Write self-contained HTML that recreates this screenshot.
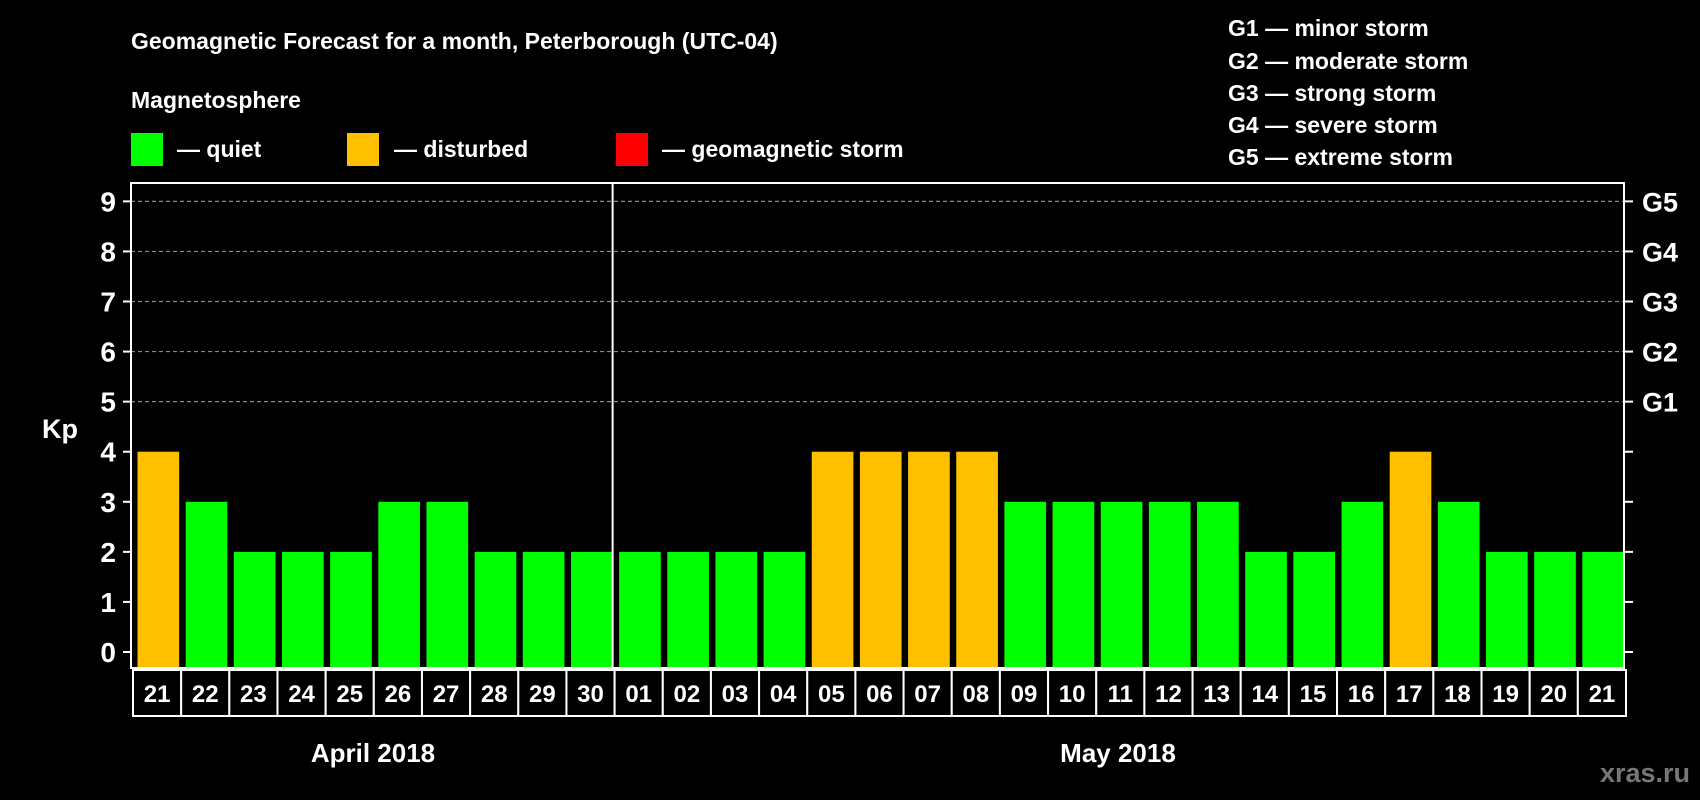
<!DOCTYPE html>
<html><head><meta charset="utf-8">
<style>
html,body{margin:0;padding:0;background:#000;}
svg{display:block;font-family:"Liberation Sans",Arial,sans-serif;font-weight:bold;}
</style></head>
<body>
<svg id="chart" width="1700" height="800" viewBox="0 0 1700 800" xmlns="http://www.w3.org/2000/svg">
<rect width="1700" height="800" fill="#000"/>
<text x="131" y="49" fill="#fff" font-size="23">Geomagnetic Forecast for a month, Peterborough (UTC-04)</text>
<text x="131" y="108" fill="#fff" font-size="23">Magnetosphere</text>
<g>
<rect x="131" y="133" width="32" height="33" fill="#00ff00"/>
<text x="177" y="157" fill="#fff" font-size="23">— quiet</text></g>
<g>
<rect x="347" y="133" width="32" height="33" fill="#ffc000"/>
<text x="394" y="157" fill="#fff" font-size="23">— disturbed</text></g>
<g>
<rect x="616" y="133" width="32" height="33" fill="#ff0000"/>
<text x="662" y="157" fill="#fff" font-size="23">— geomagnetic storm</text></g>
<g fill="#fff" font-size="23">
<text x="1228" y="36">G1 — minor storm</text>
<text x="1228" y="69">G2 — moderate storm</text>
<text x="1228" y="101">G3 — strong storm</text>
<text x="1228" y="133">G4 — severe storm</text>
<text x="1228" y="165">G5 — extreme storm</text>
</g>
<text x="42" y="438" fill="#fff" font-size="27">Kp</text>
<text x="373" y="762" fill="#fff" font-size="26" text-anchor="middle">April 2018</text>
<text x="1118" y="762" fill="#fff" font-size="26" text-anchor="middle">May 2018</text>
<text x="1690" y="782" fill="#777" font-size="27" text-anchor="end">xras.ru</text>
<g id="plot"></g>
</svg>
<script>
const days = ["21","22","23","24","25","26","27","28","29","30","01","02","03","04","05","06","07","08","09","10","11","12","13","14","15","16","17","18","19","20","21"];
const kpValues = [4,3,2,2,2,3,3,2,2,2,2,2,2,2,4,4,4,4,3,3,3,3,3,2,2,3,4,3,2,2,2];
const yTicks = [0,1,2,3,4,5,6,7,8,9];
const gLabels = ["G1","G2","G3","G4","G5"];
const gLevels = [5,6,7,8,9];
const monthBoundaryIndex = 10;

const NS = "http://www.w3.org/2000/svg";
const L = 131, R = 1624, T = 183, B = 668;
const y0 = 652, unit = 50.07;
const bw = (R - L) / days.length;
function yScale(v){ return y0 - v * unit; }
function xScale(i){ return L + i * bw; }
function mk(tag, attrs){ const e = document.createElementNS(NS, tag); for (const k in attrs) e.setAttribute(k, attrs[k]); return e; }
const plot = document.getElementById('plot');

// gridlines
gLevels.forEach((v) => {
  const g = mk('line', {x1:L, x2:R, y1:yScale(v), y2:yScale(v), stroke:'#888', 'stroke-width':1.2, 'stroke-dasharray':'4,3'});
  
  
  plot.appendChild(g);
});
// bars
kpValues.forEach((v, i) => {
  const color = v >= 5 ? '#ff0000' : (v >= 4 ? '#ffc000' : '#00ff00');
  const r = mk('rect', {x:xScale(i) + 6.5, y:yScale(v), width:bw - 6.5, height:B - yScale(v), fill:color});
  
  
  plot.appendChild(r);
});
// frame
const fr = mk('rect', {x:L, y:T, width:R - L, height:B - T, fill:'none', stroke:'#fff', 'stroke-width':2});


plot.appendChild(fr);
const dv = mk('line', {x1:xScale(monthBoundaryIndex), x2:xScale(monthBoundaryIndex), y1:T, y2:B, stroke:'#fff', 'stroke-width':2});


plot.appendChild(dv);
// y ticks
yTicks.forEach((v) => {
  const tk = mk('line', {x1:L - 8, x2:L, y1:yScale(v), y2:yScale(v), stroke:'#fff', 'stroke-width':2});
  
  
  plot.appendChild(tk);
  const rt = mk('line', {x1:R, x2:R + 9, y1:yScale(v), y2:yScale(v), stroke:'#fff', 'stroke-width':2});
  
  
  plot.appendChild(rt);
  const t = mk('text', {x:L - 15, y:yScale(v) + 10, fill:'#fff', 'font-size':28, 'text-anchor':'end'});
  t.textContent = v;
  
  
  plot.appendChild(t);
});
gLabels.forEach((g, i) => {
  const t = mk('text', {x:R + 18, y:yScale(gLevels[i]) + 10, fill:'#fff', 'font-size':27});
  t.textContent = g;
  
  
  plot.appendChild(t);
});
// day label boxes
days.forEach((d, i) => {
  const bx = mk('rect', {x:xScale(i) + 2, y:670, width:bw, height:46, fill:'#000', stroke:'#fff', 'stroke-width':2});
  
  
  plot.appendChild(bx);
  const t = mk('text', {x:xScale(i) + 2 + bw / 2, y:702, fill:'#fff', 'font-size':24, 'text-anchor':'middle'});
  t.textContent = d;
  
  
  plot.appendChild(t);
});
</script>
</body></html>
